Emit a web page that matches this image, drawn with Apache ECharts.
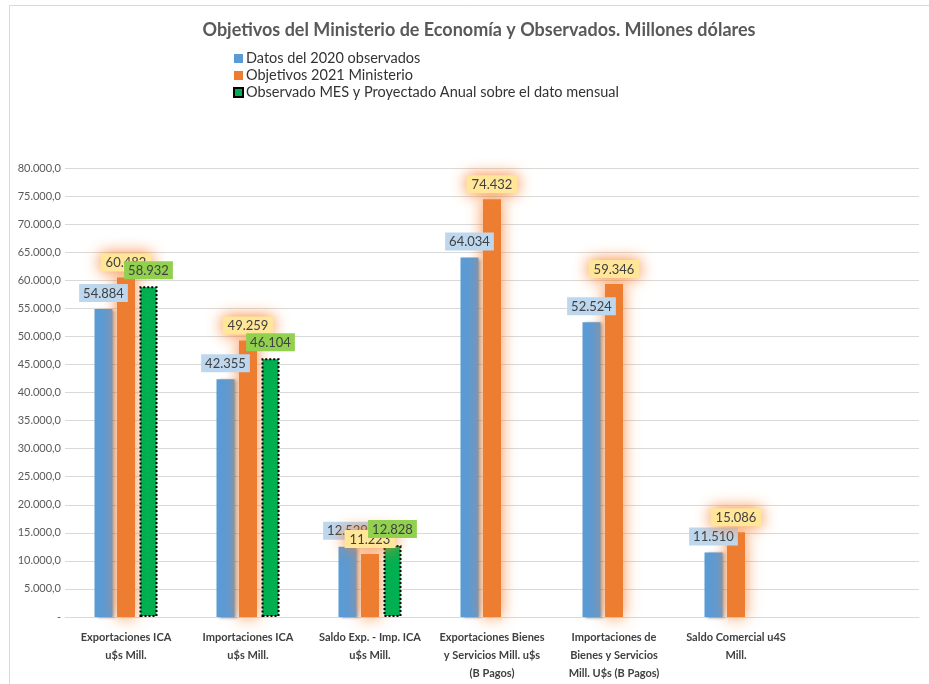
<!DOCTYPE html>
<html>
<head>
<meta charset="utf-8">
<script src="https://cdn.jsdelivr.net/npm/echarts@6/dist/echarts.min.js"></script>
<style>html,body{margin:0;padding:0;background:#fff}#c{width:929px;height:684px}</style>
</head>
<body>
<div id="c"></div>
<script>
var categories = [
  "Exportaciones ICA\nu$s Mill.",
  "Importaciones ICA\nu$s Mill.",
  "Saldo Exp. - Imp. ICA\nu$s Mill.",
  "Exportaciones Bienes\ny Servicios Mill. u$s\n(B Pagos)",
  "Importaciones de\nBienes y Servicios\nMill. U$s (B Pagos)",
  "Saldo Comercial u4S\nMill.",
  ""
];
var datos2020 = [54884, 42355, 12529, 64034, 52524, 11510, null];
var objetivos2021 = [60482, 49259, 11223, 74432, 59346, 15086, null];
var observadoMes = [58932, 46104, 12828, null, null, null, null];
var seriesNames = ["Datos del 2020 observados", "Objetivos 2021 Ministerio", "Observado MES y Proyectado Anual sobre el dato mensual"];

function thousands(v) {
  var s = String(Math.round(v));
  return s.replace(/\B(?=(\d{3})+(?!\d))/g, ".");
}
function yFmt(v) {
  if (v === 0) return "-";
  return thousands(v) + ",0";
}
var FONT = "Lato, 'Noto Sans', sans-serif";

var chart = echarts.init(document.getElementById('c'), null, {renderer: 'canvas'});
chart.setOption({
  animation: false,
  backgroundColor: '#fff',
  textStyle: {fontFamily: FONT},
  graphic: [{
    type: 'rect', left: 7, top: 3, shape: {width: 940, height: 700},
    style: {fill: 'none', stroke: '#d9d9d9', lineWidth: 1}, silent: true, z: -1
  }],
  title: {
    text: "Objetivos del Ministerio de Economía y Observados. Millones dólares",
    left: 474, top: 16, textAlign: 'center',
    textStyle: {fontFamily: FONT, fontSize: 18, fontWeight: 'bold', color: '#595959'}
  },
  legend: {
    orient: 'vertical', left: 228, top: 46, itemGap: 2,
    itemWidth: 9, itemHeight: 9, icon: 'rect',
    textStyle: {fontFamily: FONT, fontSize: 14.5, color: '#333333', padding: [0,0,0,-2]},
    data: seriesNames
  },
  grid: {left: 65, right: 10, top: 168, bottom: 67, containLabel: false},
  xAxis: {
    type: 'category', data: categories,
    axisLine: {lineStyle: {color: '#d9d9d9'}},
    axisTick: {show: false},
    axisLabel: {interval: 0, fontFamily: FONT, fontSize: 11, fontWeight: 'bold', color: '#404040', lineHeight: 18, margin: 11}
  },
  yAxis: {
    type: 'value', min: 0, max: 80000, interval: 5000,
    axisLine: {show: false}, axisTick: {show: false},
    splitLine: {lineStyle: {color: '#d9d9d9'}},
    axisLabel: {formatter: yFmt, fontFamily: FONT, fontSize: 11, color: '#595959', margin: 4}
  },
  series: [
    {
      name: seriesNames[0], type: 'bar', data: datos2020, barWidth: 18, barGap: '25%',
      itemStyle: {color: '#5B9BD5', shadowColor: 'rgba(0,0,0,0.35)', shadowBlur: 3, shadowOffsetX: 2, shadowOffsetY: 1},
      label: {show: true, position: 'top', distance: 7, formatter: function(p){return thousands(p.value);},
        fontFamily: FONT, fontSize: 13, color: '#404040', backgroundColor: '#BDD7EE', padding: [3,4,2,4]}
    },
    {
      name: seriesNames[1], type: 'bar', data: objetivos2021, barWidth: 18,
      itemStyle: {color: '#ED7D31', shadowColor: 'rgba(247,130,50,0.9)', shadowBlur: 16},
      label: {show: true, position: 'top', distance: 6, formatter: function(p){return thousands(p.value);},
        fontFamily: FONT, fontSize: 13, color: '#404040', backgroundColor: '#FFE699', padding: [3,5,2,5],
        shadowColor: 'rgba(247,130,50,1)', shadowBlur: 16}
    },
    {
      name: seriesNames[2], type: 'bar', data: observadoMes, barWidth: 18,
      itemStyle: {color: '#00B050', borderColor: '#000', borderWidth: 2, borderType: 'dotted'},
      label: {show: true, position: 'top', distance: 7, formatter: function(p){return thousands(p.value);},
        fontFamily: FONT, fontSize: 13, color: '#404040', backgroundColor: '#92D050', padding: [3,4,2,4]}
    }
  ]
});
</script>
</body>
</html>
